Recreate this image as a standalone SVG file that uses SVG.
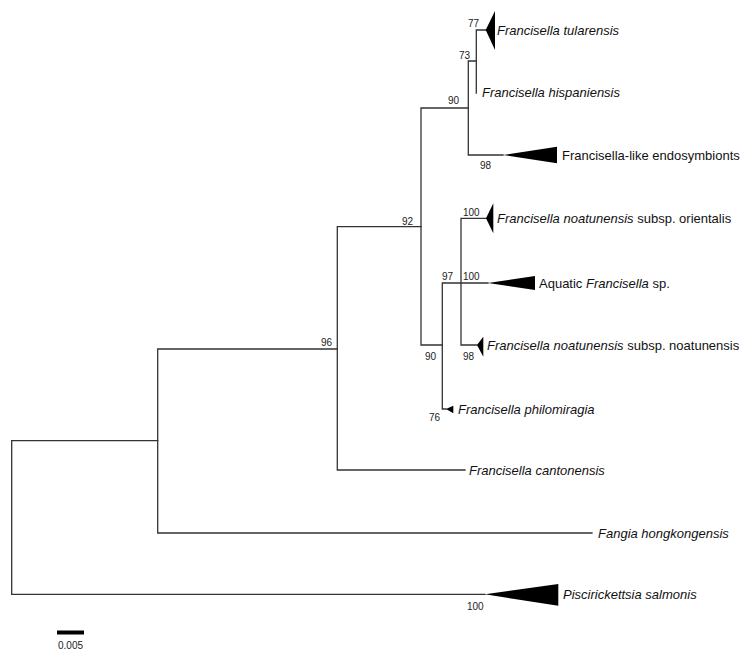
<svg xmlns="http://www.w3.org/2000/svg" width="750" height="665" viewBox="0 0 750 665">
<style>
.br{fill:none;stroke:#333;stroke-width:1.3;stroke-linecap:square}
.tri{fill:#000;stroke:none}
.sp{font-family:"Liberation Sans",Arial,sans-serif;font-size:13px;fill:#111}
.it{font-style:italic}
.bs{font-family:"Liberation Sans",Arial,sans-serif;font-size:10px;fill:#222}
</style>
<rect width="750" height="665" fill="#fff"/>
<g id="connectors">
<path class="br" d="M11.7,440.7 V594.3 M11.7,440.7 H157.7 M11.7,594.3 H485"/>
<path class="br" d="M157.7,349 V533 M157.7,349 H337.3 M157.7,533 H592"/>
<path class="br" d="M337.3,226.7 V470 M337.3,226.7 H421 M337.3,470 H465"/>
<path class="br" d="M421,108 V345 M421,108 H468.3 M421,345 H442.3"/>
<path class="br" d="M468.3,61 V155 M468.3,61 H476.3 M468.3,155 H503"/>
<path class="br" d="M476.3,30 V93 M476.3,30 H485.7"/>
<path class="br" d="M442.3,283 V409 M442.3,283 H488 M442.3,409 H446"/>
<path class="br" d="M461,218.3 V345 M461,218.3 H486 M461,345 H477"/>
</g>
<g id="tularensis">
<polygon class="tri" points="485.7,30 495,11 495,50"/>
<text class="sp it" x="497" y="35">Francisella tularensis</text>
<text class="bs" x="479" y="26.5" text-anchor="end">77</text>
</g>
<g id="hispaniensis">
<text class="sp it" x="482" y="97">Francisella hispaniensis</text>
<text class="bs" x="470" y="59" text-anchor="end">73</text>
</g>
<g id="endosymbionts">
<polygon class="tri" points="503,155 557,146.7 557,163.3"/>
<text class="sp" x="562" y="159.5">Francisella-like endosymbionts</text>
<text class="bs" x="480" y="169">98</text>
<text class="bs" x="459" y="104" text-anchor="end">90</text>
</g>
<g id="orientalis">
<polygon class="tri" points="486,218.3 493.3,203.3 493.3,233.3"/>
<text class="sp" x="497" y="223"><tspan class="it">Francisella noatunensis</tspan> subsp. orientalis</text>
<text class="bs" x="463" y="216">100</text>
<text class="bs" x="413" y="224.5" text-anchor="end">92</text>
</g>
<g id="aquatic">
<polygon class="tri" points="488,283 535,276 535,290"/>
<text class="sp" x="539" y="287.5">Aquatic <tspan class="it">Francisella</tspan> sp.</text>
<text class="bs" x="463" y="279.5">100</text>
<text class="bs" x="453" y="279.5" text-anchor="end">97</text>
</g>
<g id="noatunensis">
<polygon class="tri" points="477,345 483.3,336.7 483.3,356.7"/>
<text class="sp" x="487" y="349.5"><tspan class="it">Francisella noatunensis</tspan> subsp. noatunensis</text>
<text class="bs" x="463" y="359.5">98</text>
<text class="bs" x="425" y="359.5">90</text>
</g>
<g id="philomiragia">
<polygon class="tri" points="446,409 453.3,405.7 453.3,413.3"/>
<text class="sp it" x="458" y="413.5">Francisella philomiragia</text>
<text class="bs" x="429" y="420.5">76</text>
</g>
<g id="cantonensis">
<text class="sp it" x="469" y="474.5">Francisella cantonensis</text>
<text class="bs" x="332" y="345.5" text-anchor="end">96</text>
</g>
<g id="fangia">
<text class="sp it" x="598" y="537.5">Fangia hongkongensis</text>
</g>
<g id="piscirickettsia">
<polygon class="tri" points="485,594.3 558.3,584 558.3,605.7"/>
<text class="sp it" x="563" y="598.5">Piscirickettsia salmonis</text>
<text class="bs" x="467" y="609.5">100</text>
</g>
<g id="scalebar">
<rect x="57" y="630.5" width="27" height="4" fill="#000"/>
<text class="bs" x="70.5" y="648.5" text-anchor="middle" font-size="9.5">0.005</text>
</g>
</svg>
